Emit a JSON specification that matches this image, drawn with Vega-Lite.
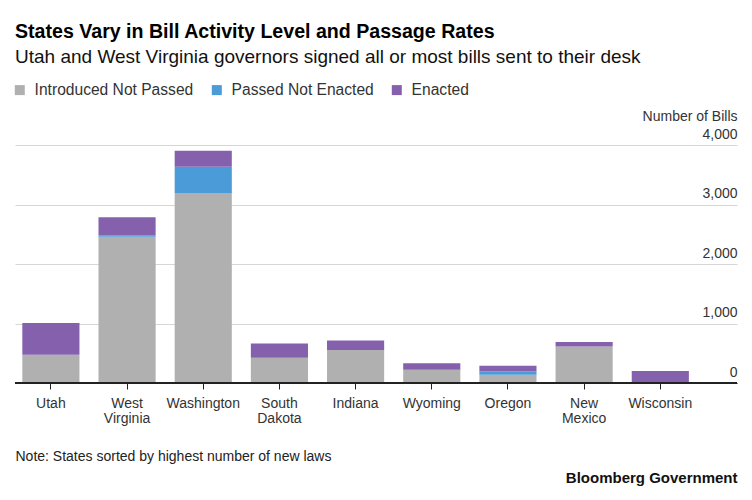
{
  "$schema": "https://vega.github.io/schema/vega-lite/v6.json",
  "width": 722,
  "height": 238,
  "autosize": {"type": "none"},
  "padding": {"left": 15, "top": 145, "right": 15, "bottom": 117},
  "background": "white",
  "title": {
    "text": "States Vary in Bill Activity Level and Passage Rates",
    "subtitle": "Utah and West Virginia governors signed all or most bills sent to their desk",
    "anchor": "start",
    "frame": "group",
    "offset": 14,
    "font": "Liberation Sans",
    "fontSize": 19.6,
    "fontWeight": "bold",
    "color": "#000000",
    "subtitleFont": "Liberation Sans",
    "subtitleFontSize": 19,
    "subtitleColor": "#111111",
    "subtitlePadding": 5
  },
  "data": {
    "values": [
      {"state": "Utah", "status": "Introduced Not Passed", "bills": 475},
      {"state": "Utah", "status": "Enacted", "bills": 532},
      {"state": "West Virginia", "status": "Introduced Not Passed", "bills": 2460},
      {"state": "West Virginia", "status": "Passed Not Enacted", "bills": 25},
      {"state": "West Virginia", "status": "Enacted", "bills": 300},
      {"state": "Washington", "status": "Introduced Not Passed", "bills": 3193},
      {"state": "Washington", "status": "Passed Not Enacted", "bills": 442},
      {"state": "Washington", "status": "Enacted", "bills": 269},
      {"state": "South Dakota", "status": "Introduced Not Passed", "bills": 424},
      {"state": "South Dakota", "status": "Enacted", "bills": 240},
      {"state": "Indiana", "status": "Introduced Not Passed", "bills": 555},
      {"state": "Indiana", "status": "Enacted", "bills": 161},
      {"state": "Wyoming", "status": "Introduced Not Passed", "bills": 222},
      {"state": "Wyoming", "status": "Enacted", "bills": 110},
      {"state": "Oregon", "status": "Introduced Not Passed", "bills": 139},
      {"state": "Oregon", "status": "Passed Not Enacted", "bills": 56},
      {"state": "Oregon", "status": "Enacted", "bills": 95},
      {"state": "New Mexico", "status": "Introduced Not Passed", "bills": 614},
      {"state": "New Mexico", "status": "Enacted", "bills": 74},
      {"state": "Wisconsin", "status": "Enacted", "bills": 200}
    ]
  },
  "transform": [
    {"calculate": "indexof(['Introduced Not Passed', 'Passed Not Enacted', 'Enacted'], datum.status)", "as": "stackOrder"}
  ],
  "layer": [
    {
      "mark": {"type": "bar"},
      "encoding": {
        "x": {
          "field": "state",
          "type": "nominal",
          "sort": null,
          "scale": {"paddingInner": 0.25, "paddingOuter": 0.364, "align": 0.132},
          "axis": {
            "title": "Note: States sorted by highest number of new laws",
            "titleAnchor": "start",
            "titleAlign": "left",
            "titleX": 0,
            "titleY": 77,
            "titleBaseline": "alphabetic",
            "titleFontSize": 14,
            "titleFontWeight": "normal",
            "titleColor": "#222222",
            "labelAngle": 0,
            "labelExpr": "split(datum.label, ' ')",
            "labelFontSize": 14,
            "labelColor": "#333333",
            "labelPadding": 7,
            "labelLineHeight": 15.5,
            "labelBaseline": "top",
            "tickSize": 6,
            "tickColor": "#222222",
            "domainColor": "#222222",
            "domainWidth": 1
          }
        },
        "y": {
          "field": "bills",
          "type": "quantitative",
          "stack": "zero",
          "scale": {"domain": [0, 4000], "nice": false},
          "axis": {
            "orient": "right",
            "values": [0, 1000, 2000, 3000, 4000],
            "format": ",.0f",
            "domain": false,
            "ticks": false,
            "tickSize": 0,
            "labelPadding": 0,
            "labelAlign": "right",
            "labelBaseline": "alphabetic",
            "labelOffset": -7,
            "labelFlush": false,
            "labelOverlap": false,
            "labelFontSize": 14,
            "labelColor": "#333333",
            "grid": true,
            "gridColor": "#d6d6d6",
            "title": "Number of Bills",
            "titleAngle": 0,
            "titleAlign": "right",
            "titleBaseline": "alphabetic",
            "titleX": 0,
            "titleY": -25,
            "titleFontSize": 14,
            "titleFontWeight": "normal",
            "titleColor": "#333333"
          }
        },
        "order": {"field": "stackOrder", "type": "quantitative", "sort": "ascending"},
        "color": {
          "field": "status",
          "type": "nominal",
          "sort": ["Introduced Not Passed", "Passed Not Enacted", "Enacted"],
          "scale": {
            "domain": ["Introduced Not Passed", "Passed Not Enacted", "Enacted"],
            "range": ["#b0b0b0", "#4a9bd7", "#8560ad"]
          },
          "legend": {
            "orient": "none",
            "legendX": -3,
            "legendY": -63,
            "direction": "horizontal",
            "title": null,
            "symbolType": "square",
            "symbolSize": 100,
            "symbolStrokeWidth": 0,
            "symbolOpacity": 1,
            "labelFontSize": 15.6,
            "labelColor": "#333333",
            "labelOffset": 7,
            "columnPadding": 15,
            "padding": 0
          }
        }
      }
    },
    {
      "mark": {"type": "rule", "color": "#222222", "strokeWidth": 1},
      "encoding": {
        "y": {
          "datum": 0,
          "type": "quantitative",
          "axis": {
            "orient": "left",
            "labels": false,
            "ticks": false,
            "domain": false,
            "grid": false,
            "title": "Bloomberg Government",
            "titleAngle": 0,
            "titleAlign": "right",
            "titleBaseline": "alphabetic",
            "titleX": 722,
            "titleY": 337,
            "titleFontSize": 15,
            "titleFontWeight": "bold",
            "titleColor": "#111111"
          }
        }
      }
    }
  ],
  "resolve": {"axis": {"y": "independent"}},
  "config": {
    "view": {"stroke": null},
    "font": "Liberation Sans",
    "axis": {"labelFont": "Liberation Sans", "titleFont": "Liberation Sans"},
    "legend": {"labelFont": "Liberation Sans"}
  }
}
